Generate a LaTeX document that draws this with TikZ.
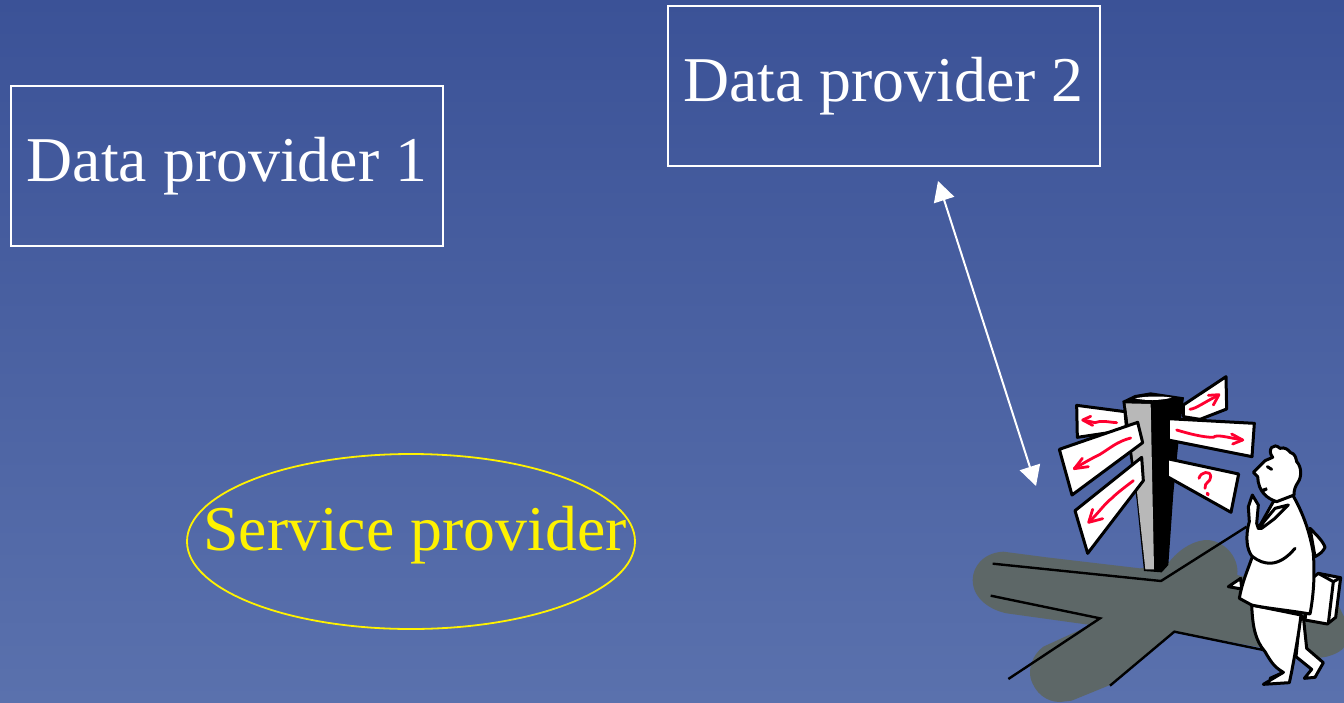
\documentclass[tikz,border=0pt]{standalone}
\usepackage{fontspec}
\setmainfont{Liberation Serif}
\usetikzlibrary{arrows.meta,shapes.geometric}
\definecolor{bgtop}{HTML}{3B5297}
\definecolor{bgmid}{HTML}{4560A3}
\definecolor{bgbot}{HTML}{5A71AD}
\definecolor{shadowgrey}{HTML}{5D6767}
\definecolor{signred}{HTML}{FF0030}
\tikzset{
  x=1pt,y=-1pt,
  box/.style={draw=white,line width=2pt,text=white,font=\fontsize{63.8}{64}\selectfont,inner sep=0pt,
    minimum width=432pt,minimum height=160pt,text height=47.5pt,text depth=15pt},
  oval/.style={ellipse,draw=yellow,line width=1.8pt,inner sep=0pt,minimum width=448pt,minimum height=175pt},
  ovallabel/.style={text=yellow,font=\fontsize{63.8}{64}\selectfont,inner sep=0pt},
  link/.style={draw=white,line width=2pt,{Triangle[length=20pt,width=21pt,fill=white]}-{Triangle[length=20pt,width=21pt,fill=white]}},
  zoomone/.style={shift={(960pt,-360pt)},x=0.33333pt,y=-0.33333pt},
  zoomthree/.style={shift={(1220pt,-440pt)},x=0.33333pt,y=-0.33333pt},
  ink/.style={draw=black,line width=3pt,line join=round,line cap=round},
  sign/.style={ink,fill=white},
  road/.style={draw=black,line width=2.4pt,line join=miter},
  redline/.style={draw=signred,line width=2.8pt,line cap=round,line join=round},
}
\begin{document}
\begin{tikzpicture}
\useasboundingbox (0,0) rectangle (1344,702);
\shade[top color=bgtop,middle color=bgmid,bottom color=bgbot] (0,0) rectangle (1344,702);

\node[box] (dpa) at (227,165.7) {Data provider 1};
\node[box] (dpb) at (883.5,85.7) {Data provider 2};
\node[oval] (sp) at (411,541.5) {};
\node[ovallabel,anchor=base] (splabel) at (415,550) {Service provider};
\coordinate (user) at (1036,486);
\coordinate (dpbend) at (938,181);
\draw[link] (dpbend) -- (user);

% crossroads shadow and roads
\begin{scope}[zoomone]
\fill[shadowgrey] (130,575) .. controls (70,578) and (38,620) .. (38,660)
  .. controls (38,715) and (90,750) .. (140,760)
  -- (392,795) -- (250,860)
  .. controls (215,885) and (205,930) .. (212,955)
  .. controls (225,1000) and (260,1026) .. (300,1026)
  -- (335,1022) -- (450,975) -- (643,815) -- (1070,893)
  .. controls (1110,895) and (1152,870) .. (1152,860)
  -- (1152,770) -- (1135,735) -- (832,645)
  .. controls (838,590) and (790,538) .. (735,540)
  .. controls (690,545) and (650,575) .. (620,615)
  -- (540,625) -- (260,592) -- cycle;
\draw[road] (98,611) -- (603,663) -- (860,500);
\draw[road] (92,707) -- (420,775) -- (145,957);
\draw[road] (450,977) -- (643,815) -- (910,870);

% post
\fill[black] (487,123) -- (525,105) -- (572,97) -- (672,112) -- (660,200) -- (640,400) -- (625,615) -- (605,637) -- (552,633) -- (530,420) -- (505,260) -- cycle;
\fill[white] (525,115) .. controls (560,108) and (610,108) .. (635,113) .. controls (600,122) and (555,122) .. (525,115) -- cycle;
\fill[white!72!black] (497,130) -- (572,132) -- (582,628) -- (556,628) -- (540,480) -- (525,340) -- cycle;

% signs
\draw[sign] (350,136) -- (495,155) -- (500,210) -- (352,232) -- cycle;
\draw[sign] (670,135) -- (798,50) -- (800,147) -- (720,178) -- (670,170) -- cycle;
\draw[sign] (625,176) -- (883,190) -- (876,290) -- (625,240) -- cycle;
\draw[sign] (622,296) -- (836,342) -- (813,457) -- (622,350) -- cycle;
\draw[sign] (298,268) -- (533,187) -- (548,248) -- (336,405) -- cycle;
\draw[sign] (345,452) -- (545,292) -- (550,362) -- (383,580) -- cycle;

% sign arrows
\draw[redline] (470,188) .. controls (440,186) and (425,180) .. (405,188) -- (370,180);
\draw[redline] (392,169) -- (368,180) -- (398,196);
\draw[redline] (690,148) .. controls (710,145) and (730,128) .. (775,106);
\draw[redline] (745,106) -- (777,104) -- (760,135);
\draw[redline] (650,210) .. controls (690,222) and (730,232) .. (760,232) .. controls (770,222) and (800,232) .. (848,240);
\draw[redline] (815,222) -- (848,240) -- (818,252);
\draw[redline] (512,234) .. controls (470,245) and (450,265) .. (420,283) .. controls (395,295) and (370,310) .. (343,325);
\draw[redline] (367,295) -- (343,326) -- (385,320);
\draw[redline] (520,362) .. controls (490,385) and (470,400) .. (455,415) .. controls (435,430) and (410,465) .. (387,486);
\draw[redline] (398,448) -- (386,487) -- (428,476);
\draw[redline] (717,355) .. controls (722,335) and (752,330) .. (752,350) .. controls (752,368) and (733,365) .. (735,385);
\draw[redline,line width=3.4pt] (742,400) -- (744,404);
\end{scope}

% man
\begin{scope}[zoomthree]
% briefcase
\draw[ink,fill=white] (295,400) -- (362,413) -- (347,532) -- (322,552) -- (255,540) -- (270,420) -- cycle;
\draw[ink] (295,400) -- (340,425) -- (325,550);
\draw[ink] (340,425) -- (362,413);
% rear leg
\draw[ink,fill=white] (240,530) -- (228,650) -- (275,688) -- (253,715) -- (285,712) -- (310,668) -- (260,625) -- (250,530) -- cycle;
% front leg
\draw[ink,fill=white] (95,495) .. controls (98,560) and (105,600) .. (135,635)
  .. controls (150,660) and (160,680) .. (190,697) -- (130,733) -- (208,728) -- (215,695)
  .. controls (225,640) and (235,590) .. (243,525) -- cycle;
\draw[ink] (150,715) -- (190,697);
% arm behind
\draw[ink,fill=white] (270,265) .. controls (290,285) and (310,305) .. (315,322) .. controls (310,335) and (295,345) .. (285,350) -- cycle;
% coat tail
\draw[ink,fill=white] (62,415) -- (25,440) -- (65,447) -- cycle;
% coat
\draw[ink,fill=white] (218,165) .. controls (250,220) and (270,280) .. (280,340)
  .. controls (285,410) and (280,470) .. (270,522)
  .. controls (200,510) and (140,505) .. (95,495)
  -- (58,475)
  .. controls (65,430) and (85,385) .. (97,350)
  .. controls (80,330) and (75,290) .. (88,245)
  -- (85,200) -- (97,165) -- (115,195) -- (110,250) -- (115,265)
  -- (160,185) -- cycle;
% sleeve
\draw[ink] (98,350) .. controls (130,375) and (175,385) .. (225,325);
% lapel
\draw[ink,fill=white] (115,265) -- (165,205) -- (205,195) -- (165,235) -- (125,265) -- cycle;
% head
\draw[ink,fill=white] (100,97) -- (135,62) -- (158,52)
  .. controls (140,30) and (160,5) .. (180,25)
  .. controls (195,20) and (205,30) .. (212,38)
  .. controls (225,40) and (228,55) .. (230,65)
  .. controls (245,80) and (245,110) .. (235,125)
  .. controls (225,140) and (222,150) .. (222,165)
  -- (170,185)
  .. controls (140,175) and (115,155) .. (113,110)
  -- cycle;
\draw[ink] (142,80) -- (155,88);
\fill[black] (125,147) -- (140,142) -- (143,150) -- (130,157) -- cycle;
\end{scope}
\end{tikzpicture}
\end{document}
